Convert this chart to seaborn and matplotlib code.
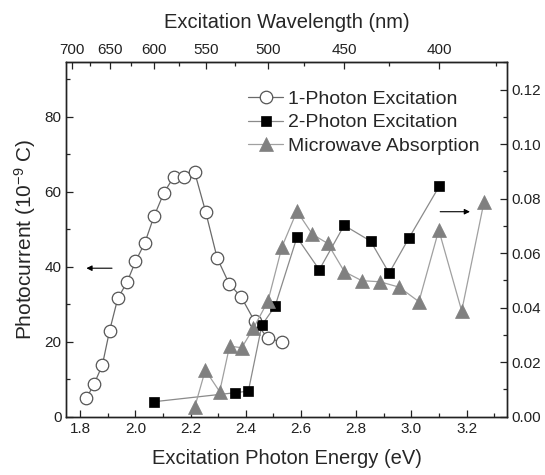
import numpy as np
import matplotlib
matplotlib.use("Agg")
import matplotlib.pyplot as plt
from matplotlib.ticker import MultipleLocator, FixedLocator
import seaborn as sns

# 1-photon excitation (left axis, photocurrent 1e-9 C)
one_x = [1.822, 1.850, 1.880, 1.906, 1.936, 1.969, 2.000, 2.034, 2.067, 2.103,
         2.138, 2.174, 2.214, 2.254, 2.296, 2.339, 2.384, 2.432, 2.479, 2.530]
one_y = [4.9, 8.7, 13.8, 22.9, 31.6, 35.8, 41.4, 46.4, 53.4, 59.7,
         63.9, 63.9, 65.3, 54.7, 42.3, 35.5, 31.8, 25.4, 21.0, 19.9]

# 2-photon excitation (right axis)
two_x = [2.067, 2.361, 2.409, 2.458, 2.506, 2.585, 2.666, 2.756, 2.852, 2.919, 2.990, 3.101]
two_y = [0.0055, 0.0088, 0.0094, 0.0336, 0.0406, 0.0658, 0.0539, 0.0702, 0.0644, 0.0527, 0.0654, 0.0846]

# microwave absorption (right axis)
mw_x = [2.215, 2.253, 2.305, 2.341, 2.385, 2.427, 2.480, 2.531, 2.585, 2.641,
        2.696, 2.757, 2.820, 2.886, 2.956, 3.027, 3.099, 3.182, 3.263]
mw_y = [0.0036, 0.0171, 0.0092, 0.0259, 0.0253, 0.0324, 0.0424, 0.0624, 0.0754, 0.0669,
        0.0636, 0.0532, 0.0499, 0.0495, 0.0475, 0.0422, 0.0685, 0.0388, 0.0789]

wl_major = [700, 650, 600, 550, 500, 450, 400]
wl_minor = [675, 625, 575, 525, 475, 425, 375]

sns.set_style("ticks")
plt.rcParams['font.family'] = ['Liberation Sans', 'DejaVu Sans']
plt.rcParams['mathtext.fontset'] = 'custom'
plt.rcParams['mathtext.rm'] = 'Liberation Sans'
plt.rcParams['mathtext.it'] = 'Liberation Sans'

fig = plt.figure(figsize=(5.45, 4.75), dpi=100)
ax = fig.add_axes([0.122, 0.1227, 0.8077, 0.7461])
ax2 = ax.twinx()

sns.lineplot(x=one_x, y=one_y, ax=ax, sort=False, estimator=None, color='#6a6a6a',
             linewidth=0.9, marker='o', markersize=9, markerfacecolor='white',
             markeredgecolor='#555555', markeredgewidth=0.9)
sns.lineplot(x=two_x, y=two_y, ax=ax2, sort=False, estimator=None, color='#8a8a8a',
             linewidth=0.9, marker='s', markersize=7, markerfacecolor='black',
             markeredgecolor='black', markeredgewidth=0.5)
sns.lineplot(x=mw_x, y=mw_y, ax=ax2, sort=False, estimator=None, color='#a0a0a0',
             linewidth=0.9, marker='^', markersize=9.5, markerfacecolor='#808080',
             markeredgecolor='#808080', markeredgewidth=0.5)

ax.set_xlim(1.75, 3.345)
ax.set_ylim(0, 94.5)
ax2.set_ylim(0, 0.13)

ax.xaxis.set_major_locator(MultipleLocator(0.2))
ax.xaxis.set_minor_locator(MultipleLocator(0.1))
ax.yaxis.set_major_locator(MultipleLocator(20))
ax.yaxis.set_minor_locator(MultipleLocator(10))
ax2.yaxis.set_major_locator(MultipleLocator(0.02))
ax2.yaxis.set_minor_locator(MultipleLocator(0.01))
ax.xaxis.set_major_formatter(matplotlib.ticker.FormatStrFormatter('%.1f'))
ax2.yaxis.set_major_formatter(matplotlib.ticker.FormatStrFormatter('%.2f'))

for a in (ax, ax2):
    a.tick_params(which='both', direction='in', labelsize=11, colors='#222222', width=0.9)
    a.tick_params(which='major', length=5)
    a.tick_params(which='minor', length=3)
    for s in a.spines.values():
        s.set_linewidth(1.0)
        s.set_color('#222222')
        s.set_visible(True)

top = ax.secondary_xaxis('top', functions=(lambda e: 1239.84 / np.clip(e, 1e-6, None),
                                           lambda w: 1239.84 / np.clip(w, 1e-6, None)))
top.xaxis.set_major_locator(FixedLocator(wl_major))
top.xaxis.set_minor_locator(FixedLocator(wl_minor))
top.tick_params(which='both', direction='in', labelsize=11, colors='#222222', width=0.9)
top.tick_params(which='major', length=5)
top.tick_params(which='minor', length=3)
top.set_xlabel('Excitation Wavelength (nm)', fontsize=14.5, labelpad=11)

ax.set_xlabel('Excitation Photon Energy (eV)', fontsize=14.5, labelpad=10)
ax.set_ylabel('Photocurrent (10$^{-9}$ C)', fontsize=15, labelpad=5)
ax2.set_ylabel('')

ax.annotate('', xy=(1.812, 39.6), xytext=(1.925, 39.6),
            arrowprops=dict(arrowstyle='-|>', color='black', lw=0.8, mutation_scale=8))
ax2.annotate('', xy=(3.222, 0.0752), xytext=(3.094, 0.0752),
             arrowprops=dict(arrowstyle='-|>', color='black', lw=0.8, mutation_scale=8))

handles = [ax.get_lines()[0], ax2.get_lines()[0], ax2.get_lines()[1]]
labels = ['1-Photon Excitation', '2-Photon Excitation', 'Microwave Absorption']
ax2.legend(handles, labels, loc='upper right', bbox_to_anchor=(0.965, 0.955), frameon=False,
           fontsize=14, handlelength=1.8, handletextpad=0.25, labelspacing=0.32,
           borderaxespad=0.2)

fig.savefig('out.png', dpi=100)
